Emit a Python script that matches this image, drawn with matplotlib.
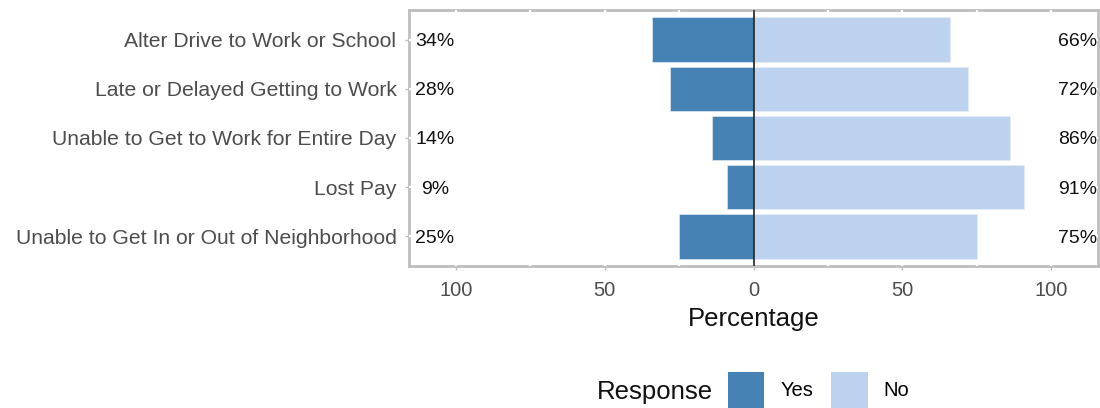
import matplotlib.pyplot as plt
from matplotlib.patches import Patch

plt.rcParams['font.family'] = ['Liberation Sans', 'DejaVu Sans']

items = ['Alter Drive to Work or School',
         'Late or Delayed Getting to Work',
         'Unable to Get to Work for Entire Day',
         'Lost Pay',
         'Unable to Get In or Out of Neighborhood']
yes = [34, 28, 14, 9, 25]
no = [66, 72, 86, 91, 75]

dark = '#4682B4'
light = '#BCD2EE'

fig = plt.figure(figsize=(11, 4.08), dpi=100)
ax = fig.add_axes([409 / 1100, 1 - 266 / 408, 689 / 1100, 256 / 408])

ypos = list(range(len(items), 0, -1))

# grid in white over the panel border, bars on top
for x in range(-100, 101, 25):
    ax.axvline(x, color='white', lw=1.6, zorder=2.6)
for y in ypos:
    ax.axhline(y, color='white', lw=1.6, zorder=2.6)

ax.barh(ypos, [-v for v in yes], height=0.9, color=dark, edgecolor='#dfe7f1', lw=0.5, zorder=3)
ax.barh(ypos, no, height=0.9, color=light, edgecolor='#e6edf7', lw=0.5, zorder=3)
ax.axvline(0, color='#222222', lw=1.2, zorder=4)

for y, a, b in zip(ypos, yes, no):
    ax.text(-107, y, f'{a}%', ha='center', va='center_baseline', fontsize=14, color='#111111', zorder=5)
    ax.text(109, y, f'{b}%', ha='center', va='center_baseline', fontsize=14, color='#111111', zorder=5)

ax.set_xlim(-115.7, 115.7)
ax.set_ylim(0.4, 5.6)
ax.set_yticks(ypos)
ax.set_yticklabels(items, fontsize=15.2, color='#4D4D4D', va='center_baseline')
ax.set_xticks([-100, -50, 0, 50, 100])
ax.set_xticklabels(['100', '50', '0', '50', '100'], fontsize=14.5, color='#4D4D4D')
ax.tick_params(axis='y', length=3, width=1, color='#BEBEBE', pad=6)
ax.tick_params(axis='x', length=3, width=1, color='#BEBEBE', pad=8)
ax.set_xlabel('Percentage', fontsize=18.5, color='#111111', labelpad=5)

for s in ax.spines.values():
    s.set_color('#BEBEBE')
    s.set_linewidth(2)
    s.set_zorder(2)

fig.text(597 / 1100, 1 - 392 / 408, 'Response', fontsize=18.5, va='center', ha='left', color='#111111')
handles = [Patch(facecolor=dark, edgecolor='none', label='Yes'),
           Patch(facecolor=light, edgecolor='none', label='No')]
fig.legend(handles=handles, ncol=2, loc='center left', bbox_to_anchor=(720 / 1100, 1 - 390 / 408),
           frameon=False, fontsize=14.5, handlelength=1.8, handleheight=2.3,
           handletextpad=0.8, columnspacing=0.9, borderaxespad=0)

fig.savefig('out.png', dpi=100)
